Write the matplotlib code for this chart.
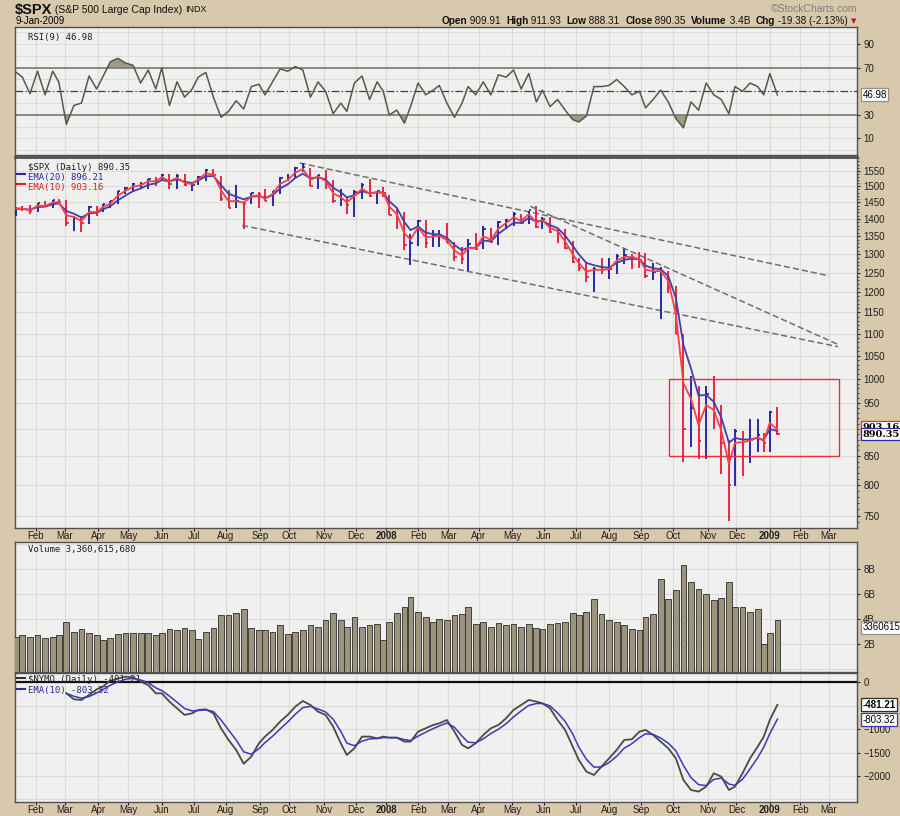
import numpy as np
import pandas as pd
import matplotlib
matplotlib.use("Agg")
import matplotlib.pyplot as plt
from matplotlib.patches import Rectangle
from matplotlib.lines import Line2D

W, H = 900, 816

# weekly values, one per week (Jan 12 2007 .. Jan 9 2009)
spx_close = [1430.7, 1430.5, 1422.2, 1448.4, 1438.1, 1455.5, 1451.2, 1387.2, 1402.8, 1386.9,
             1436.1, 1420.9, 1443.8, 1452.9, 1484.4, 1494.1, 1505.6, 1505.9, 1522.8, 1515.7,
             1536.3, 1507.7, 1532.9, 1502.6, 1503.4, 1530.4, 1552.5, 1534.1, 1458.9, 1433.1,
             1453.6, 1445.9, 1479.4, 1474.0, 1453.6, 1484.3, 1525.8, 1526.8, 1557.6, 1561.8,
             1500.6, 1535.3, 1509.7, 1453.7, 1458.7, 1440.7, 1481.1, 1504.7, 1467.9, 1484.5,
             1478.5, 1411.6, 1401.0, 1325.2, 1330.6, 1395.4, 1331.3, 1350.0, 1353.1, 1330.6,
             1293.4, 1288.1, 1329.5, 1315.2, 1370.4, 1332.8, 1390.3, 1397.8, 1413.9, 1388.3,
             1425.4, 1375.9, 1400.4, 1360.7, 1360.0, 1317.9, 1278.4, 1262.9, 1239.5, 1260.7,
             1257.8, 1260.3, 1296.3, 1298.2, 1292.2, 1282.8, 1242.3, 1251.7, 1255.1, 1213.3,
             1099.2, 899.2, 940.6, 876.8, 968.8, 931.0, 873.3, 800.0, 896.2, 876.1,
             879.7, 887.9, 872.8, 931.8, 890.35]
spx_high = [1435, 1440, 1441, 1449, 1453, 1456, 1461, 1456, 1410, 1410,
            1438, 1440, 1445, 1453, 1485, 1498, 1510, 1513, 1523, 1529,
            1540, 1540, 1538, 1540, 1514, 1532, 1555, 1556, 1534, 1489,
            1503, 1455, 1480, 1482, 1490, 1485, 1530, 1538, 1561, 1576,
            1560, 1535, 1552, 1520, 1492, 1462, 1488, 1510, 1523, 1485,
            1498, 1471, 1429, 1420, 1355, 1396, 1396, 1368, 1368, 1389,
            1335, 1321, 1341, 1358, 1380, 1375, 1395, 1400, 1422, 1416,
            1425, 1440, 1406, 1405, 1370, 1370, 1336, 1290, 1275, 1266,
            1290, 1290, 1300, 1313, 1300, 1305, 1303, 1275, 1265, 1256,
            1215, 1100, 1007, 985, 984, 1007, 946, 879, 900, 896,
            919, 918, 893, 934, 943]
spx_low = [1410, 1425, 1416, 1420, 1437, 1433, 1447, 1380, 1364, 1363,
           1386, 1410, 1420, 1432, 1445, 1474, 1482, 1491, 1492, 1500,
           1516, 1490, 1492, 1500, 1484, 1503, 1515, 1530, 1455, 1432,
           1432, 1370, 1445, 1432, 1453, 1440, 1476, 1516, 1527, 1546,
           1500, 1490, 1490, 1448, 1438, 1416, 1407, 1460, 1465, 1445,
           1465, 1411, 1370, 1312, 1270, 1322, 1316, 1320, 1320, 1330,
           1282, 1274, 1256, 1312, 1315, 1332, 1324, 1370, 1380, 1386,
           1386, 1374, 1370, 1358, 1330, 1315, 1276, 1255, 1225, 1200,
           1248, 1235, 1247, 1274, 1261, 1263, 1236, 1232, 1133, 1197,
           1099, 840, 866, 845, 845, 900, 818, 741, 798, 815,
           837, 857, 857, 857, 888]
rsi9 = [66, 62, 48, 67, 47, 67, 58, 22, 38, 40,
        63, 52, 62, 75, 78, 74, 72, 57, 68, 52,
        70, 38, 58, 45, 52, 62, 66, 45, 28, 33,
        42, 35, 54, 56, 47, 58, 69, 67, 71, 68,
        45, 58, 50, 31, 40, 33, 57, 63, 43, 58,
        50, 30, 34, 23, 37, 57, 47, 51, 55, 40,
        28, 40, 54, 47, 58, 47, 64, 62, 68, 52,
        65, 41, 51, 37, 43, 34, 26, 24, 29, 54,
        54, 55, 60, 54, 47, 50, 36, 43, 51, 41,
        27, 19, 41, 34, 57, 47, 43, 31, 54, 50,
        57, 54, 47, 65, 46.98]
vol_bn = [2.6, 2.7, 2.6, 2.7, 2.5, 2.6, 2.7, 3.8, 3.0, 3.2,
          2.9, 2.7, 2.3, 2.5, 2.8, 2.9, 2.9, 2.9, 2.9, 2.7,
          2.9, 3.2, 3.1, 3.3, 3.1, 2.4, 3.0, 3.3, 4.3, 4.3,
          4.5, 4.8, 3.3, 3.1, 3.1, 3.0, 3.5, 2.8, 3.0, 3.1,
          3.5, 3.4, 3.9, 4.5, 3.9, 3.4, 4.2, 3.4, 3.5, 3.6,
          2.3, 3.8, 4.5, 5.0, 5.8, 4.6, 4.2, 3.8, 4.0, 3.9,
          4.3, 4.4, 5.0, 3.6, 3.8, 3.4, 3.7, 3.5, 3.6, 3.4,
          3.6, 3.3, 3.2, 3.6, 3.7, 3.8, 4.5, 4.3, 4.6, 5.6,
          4.4, 3.9, 3.8, 3.5, 3.2, 3.1, 4.2, 4.4, 7.2, 5.6,
          6.3, 8.3, 7.0, 6.4, 6.0, 5.5, 5.7, 7.0, 5.0, 5.0,
          4.6, 4.8, 2.0, 2.9, 3.9]
nymo_first_week = 7   # the oscillator starts with the week of Mar 2 2007
nymo = [-235, -363, -377, -270, -150, -93, 36, 80, 120, 107,
        14, -57, -235, -235, -413, -555, -697, -662, -590, -577,
        -662, -982, -1232, -1445, -1740, -1588, -1303, -1160, -1018, -840,
        -697, -520, -399, -484, -627, -697, -947, -1303, -1552, -1410,
        -1160, -1160, -1196, -1160, -1182, -1182, -1267, -1267, -1054, -982,
        -911, -876, -805, -1054, -1338, -1410, -1303, -1125, -982, -911,
        -769, -590, -484, -377, -413, -449, -555, -805, -1018, -1374,
        -1659, -1908, -1980, -1800, -1623, -1445, -1232, -1217, -1054, -1018,
        -1125, -1267, -1410, -1623, -2086, -2300, -2335, -2229, -1944, -2015,
        -2300, -2229, -1944, -1623, -1374, -1160, -805, -481.21]

# labelled ticks (the ones the value boxes cover are left out)
price_ticks = [750, 800, 850, 950, 1000, 1050, 1100, 1150, 1200, 1250, 1300,
               1350, 1400, 1450, 1500, 1550]
price_grid = list(range(750, 1551, 50))
rsi_ticks = [10, 30, 70, 90]
vol_ticks = [2, 4, 6, 8]
nymo_ticks = [0, -1000, -1500, -2000]

holidays = ["2007-01-15", "2007-02-19", "2007-04-06", "2007-05-28", "2007-07-04",
            "2007-09-03", "2007-11-22", "2007-12-25", "2008-01-01", "2008-01-21",
            "2008-02-18", "2008-03-21", "2008-05-26", "2008-07-04", "2008-09-01",
            "2008-11-27", "2008-12-25", "2009-01-01", "2009-01-19", "2009-02-16"]

# trading-day calendar, x = trading day number
days = pd.bdate_range("2007-01-12", "2009-03-31")
days = days[~days.isin(pd.to_datetime(holidays))]
pos = pd.Series(np.arange(len(days)), index=days)
ds = pd.Series(days, index=days)
wk = ds.groupby(days.to_period("W-FRI")).max()
wk = wk[wk <= "2009-01-09"]
xw = pos[wk.values].values.astype(float)
ms = ds.groupby(days.to_period("M")).min()
ms = ms[ms >= "2007-02-01"]
mx = pos[ms.values].values
mlab = [str(d.year) if d.month == 1 else d.strftime("%b") for d in ms]

def px(date):
    return float(pos[pd.Timestamp(date)])

close = np.array(spx_close)
ema20 = pd.Series(close).ewm(alpha=0.39, adjust=False).mean().values
ema10 = pd.Series(close).ewm(alpha=0.63, adjust=False).mean().values
xn = xw[nymo_first_week:]
nymo_ema = pd.Series(nymo).ewm(alpha=0.5, adjust=False).mean().values

BG = "#D8C8AC"
PANEL = "#F0F0F0"
GRID = "#DCDCD2"
SPINE = "#505050"
plt.rcParams["font.family"] = ["Liberation Sans", "DejaVu Sans"]

fig = plt.figure(figsize=(W / 100, H / 100), dpi=100, facecolor=BG)
rend = fig.canvas.get_renderer()

def fx(x):
    return x / W

def fy(y):
    return 1 - y / H

def panel(top, bottom):
    ax = fig.add_axes([fx(15), fy(bottom), 842 / W, (bottom - top) / H])
    ax.set_facecolor(PANEL)
    ax.set_xlim(-0.86, 554.5)
    for s in ax.spines.values():
        s.set_color(SPINE)
        s.set_linewidth(1)
    ax.yaxis.tick_right()
    ax.tick_params(axis="y", which="both", direction="out", length=2.5, pad=2,
                   labelsize=7, colors="#202020")
    ax.tick_params(axis="x", direction="out", length=2, pad=0.5, labelsize=7,
                   colors="#202020")
    ax.set_xticks(mx)
    ax.set_xticklabels([])
    for v in mx:
        ax.axvline(v, color=GRID, lw=0.8, zorder=0)
    return ax

def month_labels(ax):
    ax.set_xticklabels(mlab)
    for t, lab in zip(ax.get_xticklabels(), mlab):
        if lab.isdigit():
            t.set_fontweight("bold")

def value_box(ax, val, text, ec, bold=False, serif=False):
    ax.annotate(text, xy=(1.0, val), xycoords=("axes fraction", "data"),
                xytext=(4, 0), textcoords="offset points", va="center", ha="left",
                fontsize=7, fontweight="bold" if bold else "normal",
                family=["DejaVu Serif"] if serif else None,
                bbox=dict(boxstyle="square,pad=0.15", fc="white", ec=ec, lw=0.9),
                annotation_clip=False, zorder=10)

def text_run(x, y, parts, right=False):
    # place text pieces one after the other along a line (pixel coords)
    objs, widths = [], []
    for s, size, bold, col in parts:
        t = fig.text(0, fy(y), s, fontsize=size, fontweight="bold" if bold else "normal",
                     color=col, va="center")
        objs.append(t)
        widths.append(t.get_window_extent(rend).width)
    x0 = x - sum(widths) if right else x
    for t, w in zip(objs, widths):
        t.set_x(fx(x0))
        x0 += w

mono = ["DejaVu Sans Mono"]

# ---------------- RSI panel
ax1 = panel(27, 155)
ax1.set_ylim(-4, 104.5)
r = np.array(rsi9, dtype=float)
for v in range(0, 101, 10):
    ax1.axhline(v, color=GRID, lw=0.6, zorder=0)
ax1.axhline(70, color="#7A7A70", lw=1.2)
ax1.axhline(30, color="#7A7A70", lw=1.2)
ax1.axhline(50, color="#404040", lw=0.9, ls=(0, (6, 2, 1, 2)))
ax1.fill_between(xw, r, 70, where=r > 70, interpolate=True, color="#A09B85", lw=0)
ax1.fill_between(xw, r, 30, where=r < 30, interpolate=True, color="#A09B85", lw=0)
ax1.plot(xw, r, color="#555949", lw=1.1)
ax1.set_yticks(rsi_ticks)
ax1.tick_params(axis="x", length=0)
value_box(ax1, rsi9[-1], "46.98", "#909090")
ax1.text(0.016, 0.955, "RSI(9) 46.98", transform=ax1.transAxes, family=mono,
         fontsize=6.5, va="top", color="#202020")

# ---------------- price panel
ax2 = panel(157, 527.7)
ax2.set_yscale("log")
ax2.set_ylim(731, 1595)
ax2.spines["top"].set_linewidth(2)
for v in price_grid:
    ax2.axhline(v, color=GRID, lw=0.8, zorder=0)
ax2.set_yticks(price_ticks)
ax2.set_yticklabels([str(v) for v in price_ticks])
ax2.yaxis.set_minor_locator(plt.FixedLocator(range(730, 1600, 10)))
ax2.yaxis.set_minor_formatter(plt.NullFormatter())
ax2.tick_params(axis="y", which="minor", length=1.5)
month_labels(ax2)

prev = np.r_[close[0], close[:-1]]
cols = np.where(close >= prev, "#1A1AA0", "#E8163A")
ax2.vlines(xw, spx_low, spx_high, colors=cols, lw=1.3, zorder=3)
ax2.hlines(close, xw, xw + 1.6, colors=cols, lw=1.2, zorder=3)
ax2.plot(xw, ema20, color="#3F3FB0", lw=1.3, zorder=4)
ax2.plot(xw, ema10, color="#FF4040", lw=1.3, zorder=4)

trend = [(("2007-10-10", 1575), ("2009-03-02", 1242)),
         (("2008-05-19", 1438), ("2009-03-10", 1075)),
         (("2007-08-16", 1381), ("2009-03-10", 1070))]
for (d0, p0), (d1, p1) in trend:
    ax2.plot([px(d0), px(d1)], [p0, p1], color="#707070", lw=1.1, ls=(0, (4, 2)), zorder=2)
ax2.add_patch(Rectangle((px("2008-09-26") + 0.7, 850), px("2009-03-10") - px("2008-09-26"),
                        150, fill=False, ec="#F03030", lw=1.0, zorder=5))

ax2.text(0.016, 0.985, "$SPX (Daily) 890.35", transform=ax2.transAxes, family=mono,
         fontsize=6.5, va="top", color="#202020")
ax2.text(0.016, 0.957, "EMA(20) 896.21", transform=ax2.transAxes, family=mono,
         fontsize=6.5, va="top", color="#2A2A9A")
ax2.text(0.016, 0.929, "EMA(10) 903.16", transform=ax2.transAxes, family=mono,
         fontsize=6.5, va="top", color="#E02020")
fig.add_artist(Line2D([fx(17), fx(25)], [fy(173.5), fy(173.5)], color="#2A2A9A", lw=1.5))
fig.add_artist(Line2D([fx(17), fx(25)], [fy(183.5), fy(183.5)], color="#E02020", lw=1.5))
value_box(ax2, 903.16, "903.16", "#E03030", bold=True, serif=True)
value_box(ax2, 890.35, "890.35", "#2A2AA0", bold=True, serif=True)

# ---------------- volume panel
ax3 = panel(542, 672)
ax3.set_ylim(-0.22, 10.16)
for v in range(0, 11, 2):
    ax3.axhline(v, color=GRID, lw=0.8, zorder=0)
ax3.bar(xw, np.array(vol_bn) + 0.22, bottom=-0.22, width=3.8, color="#9C947C",
        edgecolor="#2C2C2C", lw=0.6, zorder=3)
ax3.set_yticks(vol_ticks)
ax3.set_yticklabels([f"{v}B" for v in vol_ticks])
ax3.tick_params(axis="x", length=0)
value_box(ax3, 3.3606, "3360615680", "#909090")
ax3.text(0.016, 0.975, "Volume 3,360,615,680", transform=ax3.transAxes, family=mono,
         fontsize=6.5, va="top", color="#202020")

# ---------------- NYMO panel
ax4 = panel(673, 801.7)
ax4.set_ylim(-2551, 199)
for v in range(-2500, 1, 500):
    ax4.axhline(v, color=GRID, lw=0.8, zorder=0)
ax4.axhline(0, color="#101010", lw=1.6, zorder=2)
ax4.plot(xn, nymo, color="#4A4A44", lw=1.3, zorder=3)
ax4.plot(xn, nymo_ema, color="#3A3AB8", lw=1.1, zorder=4)
ax4.set_yticks(nymo_ticks)
month_labels(ax4)
value_box(ax4, -481.21, "-481.21", "#303030", bold=True)
value_box(ax4, -803.32, "-803.32", "#3A3AB8")
ax4.text(0.016, 0.985, "$NYMO (Daily) -481.21", transform=ax4.transAxes, family=mono,
         fontsize=6.5, va="top", color="#202020")
ax4.text(0.016, 0.90, "EMA(10) -803.32", transform=ax4.transAxes, family=mono,
         fontsize=6.5, va="top", color="#2A2A9A")
fig.add_artist(Line2D([fx(17), fx(25)], [fy(677.5), fy(677.5)], color="#303030", lw=1.5))
fig.add_artist(Line2D([fx(17), fx(25)], [fy(688.5), fy(688.5)], color="#2A2A9A", lw=1.5))

# ---------------- header
text_run(15, 10, [("$SPX", 10.5, True, "#101010"),
                  (" (S&P 500 Large Cap Index) ", 7.5, False, "#101010"),
                  ("INDX", 6.5, False, "#101010")])
fig.text(fx(15), fy(21.5), "9-Jan-2009", fontsize=7, va="center")
fig.text(fx(857), fy(9.5), "\u00a9StockCharts.com", fontsize=7.5, color="#808080",
         va="center", ha="right")
k = "#101010"
text_run(848, 21.5, [("Open", 7.2, True, k), (" 909.91  ", 7.2, False, k),
                     ("High", 7.2, True, k), (" 911.93  ", 7.2, False, k),
                     ("Low", 7.2, True, k), (" 888.31  ", 7.2, False, k),
                     ("Close", 7.2, True, k), (" 890.35  ", 7.2, False, k),
                     ("Volume", 7.2, True, k), (" 3.4B  ", 7.2, False, k),
                     ("Chg", 7.2, True, k), (" -19.38 (-2.13%)", 7.2, False, k)], right=True)
fig.text(fx(851), fy(21), "\u25bc", fontsize=5, color="#C0103C", va="center", family=["DejaVu Sans"])

fig.savefig("out.png", dpi=100, facecolor=BG)
